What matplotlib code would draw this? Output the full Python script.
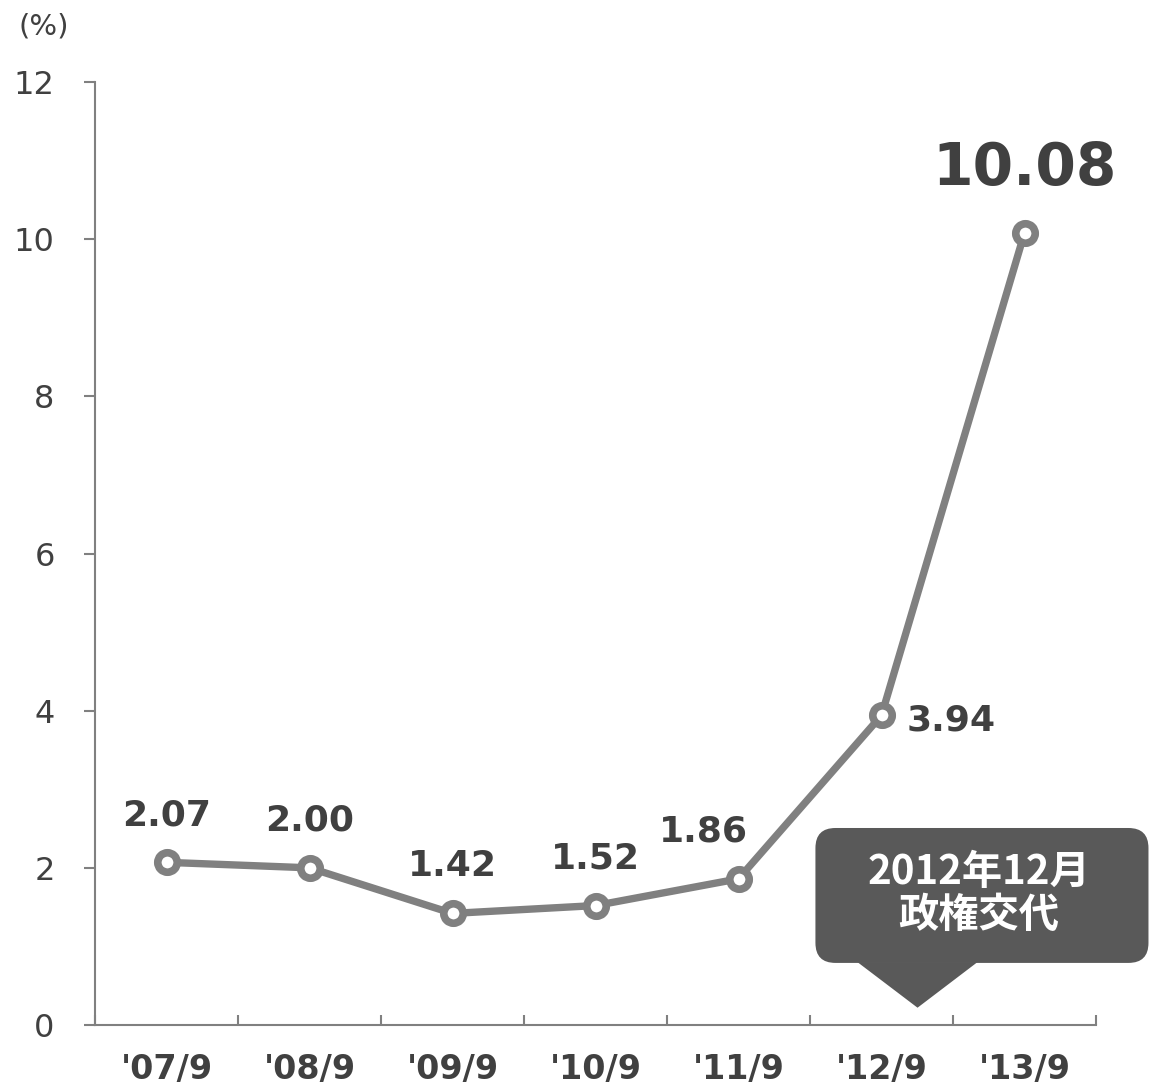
import matplotlib
matplotlib.use('Agg')
import matplotlib.pyplot as plt
from matplotlib.patches import FancyBboxPatch, Polygon
from matplotlib.ticker import FixedLocator

plt.rcParams['font.family'] = ['DejaVu Sans', 'Noto Sans CJK JP']

periods = ["'07/9", "'08/9", "'09/9", "'10/9", "'11/9", "'12/9", "'13/9"]
values  = [2.07, 2.00, 1.42, 1.52, 1.86, 3.94, 10.08]
labels  = ['2.07', '2.00', '1.42', '1.52', '1.86', '3.94', '10.08']
callout = '2012年12月\n政権交代'

GRAY  = '#808080'
TEXT  = '#404040'
BOX   = '#595959'

fig = plt.figure(figsize=(11.51, 10.87), dpi=100)
ax = fig.add_axes([95/1151, 62/1087, 1001/1151, 943/1087])

x = list(range(len(values)))
ax.plot(x, values, color=GRAY, lw=5.3, marker='o', ms=14, mew=5.5,
        mfc='white', mec=GRAY, zorder=3, clip_on=False)

ax.set_xlim(-0.5, len(values) - 0.5)
ax.set_ylim(0, 12)

for s in ['top', 'right']:
    ax.spines[s].set_visible(False)
for s in ['left', 'bottom']:
    ax.spines[s].set_color(GRAY)
    ax.spines[s].set_linewidth(1.5)

ax.set_yticks(range(0, 13, 2))
ax.tick_params(axis='y', direction='out', length=8, width=1.5, color=GRAY,
               labelsize=23, labelcolor=TEXT, pad=21)
ax.set_xticks(x)
ax.set_xticklabels(periods, fontsize=24, fontweight='bold', color=TEXT)
ax.tick_params(axis='x', which='major', length=0, pad=20)
ax.xaxis.set_minor_locator(FixedLocator([i - 0.5 for i in range(len(values) + 1)]))
ax.tick_params(axis='x', which='minor', direction='in', length=7, width=1.5, color=GRAY)

fig.text(44/1151, 1 - 27/1087, '(%)', fontsize=21, color=TEXT, ha='center', va='center')

# value labels
offsets = [(0, 34), (0, 34), (0, 34), (0, 34), (-25, 34), (18, -4), (0, 46)]
for i, (v, lab) in enumerate(zip(values, labels)):
    dx, dy = offsets[i]
    big = i == len(values) - 1
    ha = 'left' if i == 5 else 'center'
    ax.annotate(lab, (i, v), xytext=(dx, dy), textcoords='offset points',
                ha=ha, va='center', fontsize=42 if big else 26,
                fontweight='bold', color=TEXT)

# callout box (data coords, unclipped)
bx0, bx1, by0, by1 = 4.538, 6.867, 0.79, 2.507
box = FancyBboxPatch((bx0, by0), bx1 - bx0, by1 - by0,
                     boxstyle='round,pad=0,rounding_size=0.14',
                     mutation_aspect=1.82, fc=BOX, ec='none',
                     clip_on=False, zorder=4)
ax.add_patch(box)
tri = Polygon([(4.832, by0 + 0.01), (5.671, by0 + 0.01), (5.252, 0.22)],
              closed=True, fc=BOX, ec='none', clip_on=False, zorder=4)
ax.add_patch(tri)
ax.text((bx0 + bx1) / 2 - 0.02, (by0 + by1) / 2 + 0.02, callout, ha='center', va='center',
        fontsize=29, fontweight='bold', color='white', linespacing=1.05,
        family=['Noto Sans CJK JP', 'DejaVu Sans'], zorder=5)

plt.savefig('out.png', dpi=100)
